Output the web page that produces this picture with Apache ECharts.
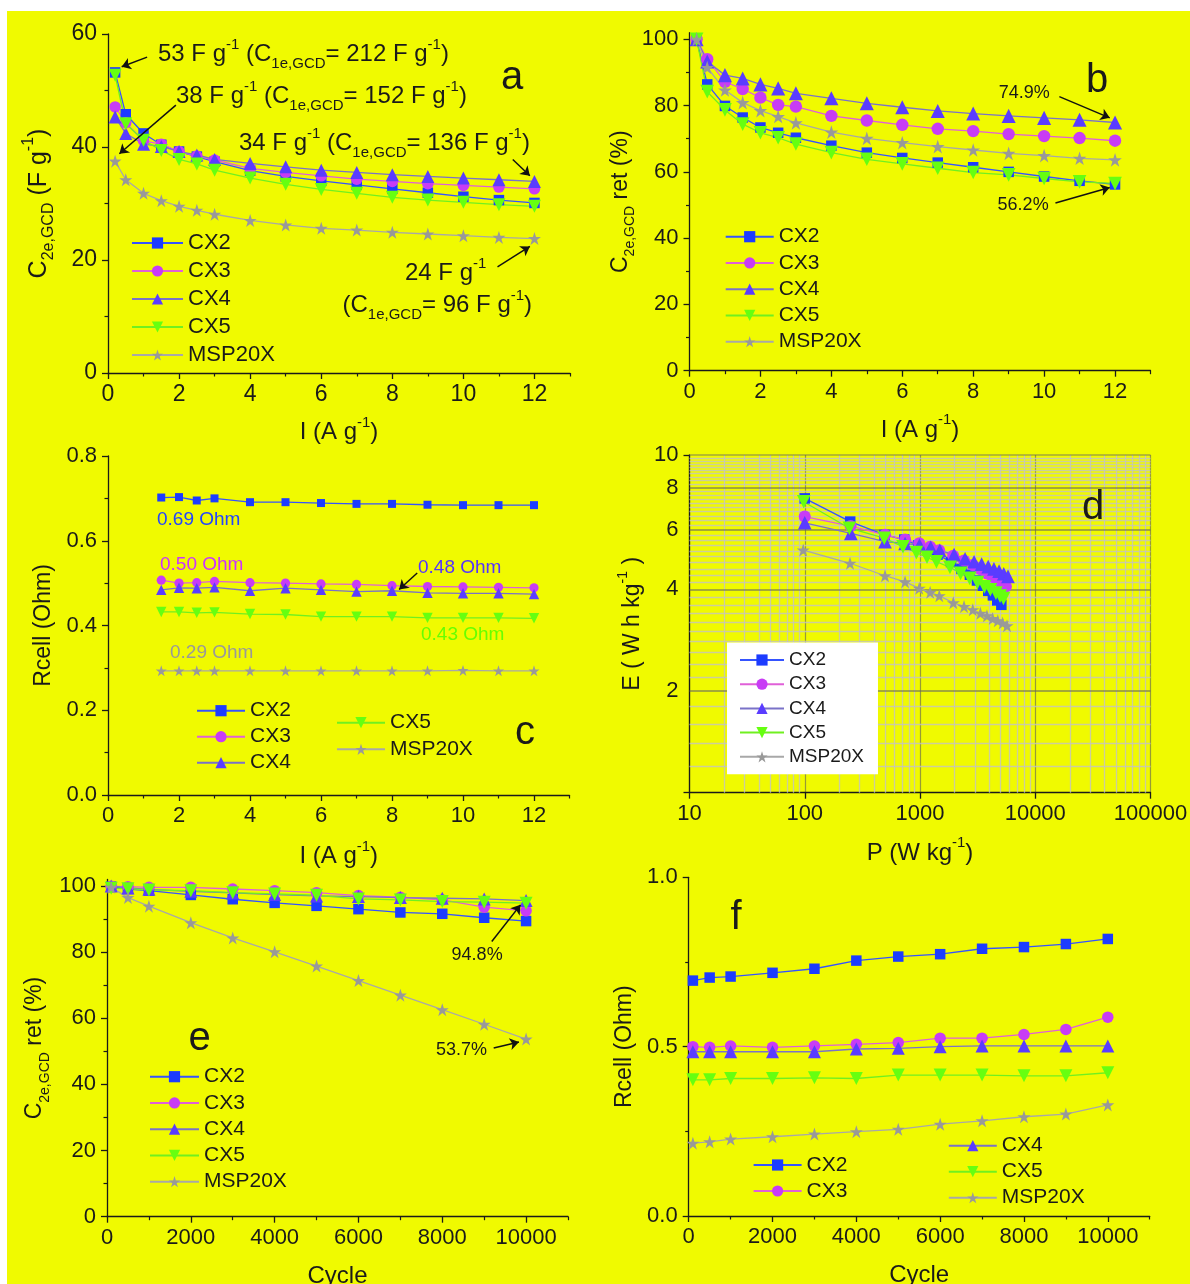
<!DOCTYPE html>
<html><head><meta charset="utf-8">
<script src="https://cdn.jsdelivr.net/npm/echarts@6/dist/echarts.min.js"></script>
<style>
html,body{margin:0;padding:0;background:#fff;}
#bg{position:absolute;left:7px;top:11px;width:1183px;height:1273px;background:#f0fa00;}
#chart{position:absolute;left:0;top:0;width:1190px;height:1284px;}
</style></head><body><div id="bg"></div><div id="chart"></div>
<script>
// ---------------- DATA ----------------
const seriesNames = ['CX2','CX3','CX4','CX5','MSP20X'];
// (a) & (b): current density, A/g
const currentAB = [0.2,0.5,1,1.5,2,2.5,3,4,5,6,7,8,9,10,11,12];
const capCX2 = [53.2,45.8,42.4,40.4,39.2,38.3,37.4,35.8,34.8,34.0,33.3,32.6,31.9,31.2,30.6,30.1];
const capCX3 = [47.1,44.3,41.1,40.5,39.2,38.4,37.7,36.2,35.5,34.9,34.3,33.9,33.5,33.2,32.9,32.6];
const capCX4 = [45.3,42.4,40.5,40.1,39.2,38.6,37.8,37.1,36.5,35.9,35.5,35.1,34.8,34.5,34.2,33.9];
const capCX5 = [52.7,44.1,41.2,39.4,37.8,37.0,35.9,34.5,33.4,32.5,31.8,31.1,30.6,30.2,29.8,29.5];
const capMSP = [37.5,34.2,31.8,30.5,29.5,28.8,28.1,27.0,26.2,25.6,25.3,24.9,24.6,24.3,24.0,23.8];
const retCX2 = [100,86.4,79.9,76.4,73.4,71.8,70.3,67.9,65.8,64.2,62.8,61.4,60.0,58.6,57.3,56.2];
const retCX3 = [100,94.0,87.2,85.0,82.4,80.2,79.7,76.9,75.5,74.2,73.0,72.3,71.4,70.8,70.2,69.4];
const retCX4 = [100,93.3,89.2,88.2,86.4,85.2,83.7,82.2,80.7,79.5,78.4,77.6,76.9,76.3,75.7,74.9];
const retCX5 = [100,84.2,78.7,74.4,71.8,70.3,68.4,65.8,63.8,62.4,61.1,59.8,59.1,58.0,57.0,56.5];
const retMSP = [100,91.5,84.7,80.9,78.5,76.7,74.8,72.0,70.1,68.8,67.6,66.6,65.6,64.9,64.1,63.6];
// (c)
const currentC = [1.5,2,2.5,3,4,5,6,7,8,9,10,11,12];
const rCX2 = [0.702,0.703,0.695,0.700,0.691,0.691,0.689,0.687,0.687,0.685,0.684,0.684,0.684];
const rCX3 = [0.507,0.500,0.501,0.504,0.501,0.500,0.498,0.497,0.494,0.492,0.491,0.490,0.489];
const rCX4 = [0.484,0.489,0.488,0.490,0.482,0.488,0.484,0.480,0.482,0.477,0.476,0.476,0.474];
const rCX5 = [0.432,0.432,0.430,0.431,0.427,0.426,0.421,0.421,0.421,0.418,0.418,0.418,0.417];
const rMSP = [0.293,0.293,0.293,0.293,0.293,0.293,0.293,0.293,0.293,0.293,0.294,0.293,0.293];
// (d) Ragone: power W/kg, energy Wh/kg
const pCX2 = [100,248,492,730,965,1195,1420,1860,2290,2710,3120,3520,3910,4290,4680,5080];
const eCX2 = [7.44,6.35,5.80,5.62,5.40,5.22,5.07,4.82,4.60,4.42,4.25,4.10,3.96,3.84,3.71,3.60];
const pCX3 = [100,250,497,742,985,1225,1465,1940,2410,2880,3340,3800,4250,4700,5140,5560];
const eCX3 = [6.57,6.16,5.80,5.62,5.48,5.35,5.22,5.03,4.87,4.72,4.59,4.46,4.35,4.25,4.16,4.08];
const pCX4 = [100,251,497,742,990,1238,1485,1975,2460,2945,3425,3905,4380,4855,5330,5800];
const eCX4 = [6.30,5.86,5.54,5.47,5.41,5.33,5.22,5.07,4.93,4.83,4.75,4.67,4.60,4.53,4.45,4.37];
const pCX5 = [98,244,490,712,930,1150,1390,1820,2250,2700,3150,3620,4080,4560,4950,5300];
const eCX5 = [7.27,6.07,5.67,5.35,5.14,4.98,4.83,4.65,4.46,4.31,4.19,4.07,3.99,3.90,3.82,3.76];
const pMSP = [97,247,497,742,985,1225,1470,1945,2410,2870,3340,3810,4270,4730,5210,5690];
const eMSP = [5.23,4.78,4.39,4.21,4.03,3.92,3.83,3.65,3.56,3.48,3.40,3.34,3.28,3.23,3.18,3.12];
// (e) & (f): cycling
const cycles = [100,500,1000,2000,3000,4000,5000,6000,7000,8000,9000,10000];
const cycRetCX2 = [99.8,99.1,98.6,97.3,96.0,94.9,94.0,93.0,92.0,91.6,90.4,89.4];
const cycRetCX3 = [99.9,99.8,99.6,99.6,99.1,98.6,98.0,97.1,96.6,95.8,93.6,92.5];
const cycRetCX4 = [100,99.4,99.0,98.4,97.9,97.4,97.0,96.8,96.5,96.3,96.1,95.6];
const cycRetCX5 = [99.3,99.2,98.8,98.6,98.0,97.6,97.2,96.1,95.8,95.3,95.1,94.8];
const cycRetMSP = [99.6,96.5,93.9,88.9,84.3,80.1,75.8,71.4,67.0,62.6,58.2,53.7];
const fCX2 = [0.695,0.704,0.707,0.718,0.730,0.754,0.766,0.773,0.789,0.794,0.803,0.818];
const fCX3 = [0.500,0.498,0.502,0.498,0.502,0.507,0.512,0.525,0.525,0.536,0.551,0.587];
const fCX4 = [0.485,0.485,0.485,0.485,0.485,0.493,0.495,0.500,0.502,0.502,0.502,0.502];
const fCX5 = [0.402,0.402,0.406,0.406,0.408,0.406,0.416,0.416,0.416,0.414,0.414,0.423];
const fMSP = [0.215,0.219,0.227,0.234,0.242,0.249,0.256,0.271,0.281,0.293,0.301,0.328];
// tick values
const ticksI = [0,2,4,6,8,10,12], minorI = [1,3,5,7,9,11,13];
const ticksCap = [0,20,40,60], minorCap = [10,30,50];
const ticksRet = [0,20,40,60,80,100], minorRet = [10,30,50,70,90];
const ticksR = [0,0.2,0.4,0.6,0.8], minorR = [0.1,0.3,0.5,0.7];
const ticksCyc = [0,2000,4000,6000,8000,10000], minorCyc = [1000,3000,5000,7000,9000,11000];
const ticksRf = [0,0.5,1.0], minorRf = [0.25,0.75];
const ticksEmajor = [2,4,6,8];
const ticksEminor = [1.2,1.4,1.6,1.8,2.2,2.4,2.6,2.8,3.0,3.2,3.4,3.6,3.8,4.2,4.4,4.6,4.8,5.0,5.2,5.4,5.6,5.8,6.2,6.4,6.6,6.8,7.0,7.2,7.4,7.6,7.8,8.2,8.4,8.6,8.8,9.0,9.2,9.4,9.6,9.8];
const ticksPminor = [20,30,40,50,60,70,80,90,200,300,400,500,600,700,800,900,2000,3000,4000,5000,6000,7000,8000,9000,20000,30000,40000,50000,60000,70000,80000,90000];

// ---------------- STYLE ----------------
const FF = '"Liberation Sans", Arial, sans-serif';
const INK = '#1a1a1a';
const STAR = 'path://M50,0 L61.8,35.3 L98.9,35.3 L68.9,57.1 L80.3,92.4 L50,70.6 L19.7,92.4 L31.1,57.1 L1.1,35.3 L38.2,35.3 Z';
const STY = {
  CX2: {symbol:'rect', color:'#1c3cff', line:'#3553ff', rot:0, size:10},
  CX3: {symbol:'circle', color:'#c83cf5', line:'#e060d8', rot:0, size:11.5},
  CX4: {symbol:'triangle', color:'#5a3cff', line:'#7a72c8', rot:0, size:13},
  CX5: {symbol:'triangle', color:'#66ff10', line:'#70f020', rot:180, size:13},
  MSP20X: {symbol:STAR, color:'#999999', line:'#a8a8a8', rot:0, size:13}
};

function richName(size){
  const sub = Math.round(size*0.62);
  return {fontFamily:FF, color:INK, fontSize:size, lineHeight:size+11,
    rich:{
      m:{fontSize:size, lineHeight:size+11, fontFamily:FF, color:INK},
      s:{fontSize:sub, verticalAlign:'bottom', fontFamily:FF, color:INK},
      p:{fontSize:sub, verticalAlign:'top', fontFamily:FF, color:INK}
    }};
}

const xAxes = [], yAxes = [];
function linAxes(list, dim, g, min, max, majors, minors, fmt, name, nameGap, nameSize, labelSize){
  const pos = dim==='x' ? 'bottom' : 'left';
  list.push({
    type:'value', gridIndex:g, min:min, max:max, position:pos,
    axisLine:{show:true, onZero:false, lineStyle:{color:INK, width:1.3}},
    axisTick:{show:true, customValues:majors, length:6, lineStyle:{color:INK, width:1.3}},
    axisLabel:{show:true, customValues:majors, formatter:fmt, fontSize:labelSize, color:INK, fontFamily:FF, margin: dim==='x'?10:11},
    splitLine:{show:false}, minorTick:{show:false},
    name:name, nameLocation:'middle', nameGap:nameGap, nameRotate: dim==='y'?90:0,
    nameTextStyle: richName(nameSize)
  });
  list.push({
    type:'value', gridIndex:g, min:min, max:max, position:pos,
    axisLine:{show:false, onZero:false},
    axisTick:{show:true, customValues:minors, length:3.5, lineStyle:{color:INK, width:1.2}},
    axisLabel:{show:false}, splitLine:{show:false}
  });
}
const f0 = v => String(v);
const f1 = v => Number(v).toFixed(1);
const NAME_I = '{m|I (A g}{p|-1}{m|)}';
const NAME_RET = '{m|C}{s|2e,GCD}{m| ret (%)}';
// a
linAxes(xAxes,'x',0,0,13,ticksI,minorI,f0,NAME_I,42,24,23);
linAxes(yAxes,'y',0,0,60,ticksCap,minorCap,f0,'{m|C}{s|2e,GCD}{m| (F g}{p|-1}{m|)}',51,25,23);
// b
linAxes(xAxes,'x',1,0,13,ticksI,minorI,f0,NAME_I,42,24,22);
linAxes(yAxes,'y',1,0,102,ticksRet,minorRet,f0,NAME_RET,52,23,22);
// c
linAxes(xAxes,'x',2,0,13,ticksI,minorI,f0,NAME_I,44,24,22);
linAxes(yAxes,'y',2,0,0.8,ticksR,minorR,f1,'{m|Rcell (Ohm)}',47,23,22);
// d (log-log)
xAxes.push({type:'log', logBase:10, gridIndex:3, min:10, max:100000, position:'bottom',
  axisLine:{show:true, onZero:false, lineStyle:{color:INK, width:1.3}},
  axisTick:{show:true, length:6, lineStyle:{color:INK, width:1.3}},
  axisLabel:{fontSize:22, color:INK, fontFamily:FF, margin:10, formatter: v => String(Math.round(v))},
  splitLine:{show:true, lineStyle:{color:'rgba(90,90,90,0.6)', width:1.2}},
  name:'{m|P (W kg}{p|-1}{m|)}', nameLocation:'middle', nameGap:43, nameTextStyle:richName(24)});
xAxes.push({type:'log', logBase:10, gridIndex:3, min:10, max:100000, show:false});
yAxes.push({type:'log', logBase:10, gridIndex:3, min:1, max:10, position:'left',
  axisLine:{show:true, onZero:false, lineStyle:{color:INK, width:1.3}},
  axisTick:{show:true, length:6, lineStyle:{color:INK, width:1.3}},
  axisLabel:{fontSize:22, color:INK, fontFamily:FF, margin:11, formatter: v => (Math.abs(v-10)<1e-6 ? '10' : '')},
  splitLine:{show:false},
  name:'{m|E ( W h kg}{p|-1}{m| )}', nameLocation:'middle', nameGap:39, nameRotate:90, nameTextStyle:richName(23)});
yAxes.push({type:'log', logBase:10, gridIndex:3, min:1, max:10, show:false});
// e
linAxes(xAxes,'x',4,0,11000,ticksCyc,minorCyc,f0,'{m|Cycle}',42,24,22);
linAxes(yAxes,'y',4,0,102,ticksRet,minorRet,f0,NAME_RET,55,23,22);
// f
linAxes(xAxes,'x',5,0,11000,ticksCyc,minorCyc,f0,'{m|Cycle}',42,24,22);
linAxes(yAxes,'y',5,0,1.0,ticksRf,minorRf,f1,'{m|Rcell (Ohm)}',47,23,22);

const grids = [
  {left:108, top:34, width:462, height:339},
  {left:689.5, top:32.7, width:461, height:338},
  {left:108, top:456, width:461.5, height:339},
  {left:689.5, top:455, width:461, height:337.7},
  {left:107, top:879.4, width:461, height:337.3},
  {left:688.7, top:877.3, width:461, height:338.7}
].map(g => Object.assign({containLabel:false, outerBoundsMode:'none', show:false}, g));

function zip(xs, ys){ return xs.map((x,i)=>[x, ys[i]]); }
function mk(name, g, xs, ys, scale, extra){
  const s = STY[name];
  return Object.assign({
    type:'line', name:name, xAxisIndex:2*g, yAxisIndex:2*g,
    data: zip(xs, ys), symbol:s.symbol, symbolSize:s.size*scale, symbolRotate:s.rot,
    showSymbol:true, itemStyle:{color:s.color, borderWidth:0},
    lineStyle:{color:s.line, width:1.3}, emphasis:{disabled:true},
    animation:false, z:3, clip:false
  }, extra||{});
}
const ARROW = {silent:true, animation:false, symbol:['none','arrow'], symbolSize:9,
  lineStyle:{color:'#111', width:1.5, type:'solid'}, label:{show:false}, emphasis:{disabled:true}};
function arrows(list){ return Object.assign({}, ARROW, {data: list.map(a => [{coord:a[0]},{coord:a[1]}])}); }

// annotation arrow endpoints (data units of each panel)
const arrowsA = [[[1.10,55.9],[0.385,54.2]], [[1.91,47.4],[0.32,38.8]], [[11.39,37.8],[11.87,34.9]], [[10.96,18.8],[11.87,22.4]]];
const arrowsB = [[[10.43,82.7],[11.85,76.3]], [[10.32,50.6],[11.85,55.3]]];
const arrowsC = [[[8.71,0.524],[8.2,0.485]]];
const arrowsE = [[[9181,83.2],[9866,94.3]], [[9227,51.0],[9830,52.8]]];

const gridLinesD = [];
ticksEminor.forEach(v => gridLinesD.push({yAxis:v, lineStyle:{color:'rgba(195,195,195,0.8)', width:1.3, type:'solid'}, label:{show:false}}));
ticksPminor.forEach(v => gridLinesD.push({xAxis:v, lineStyle:{color:'rgba(195,195,195,0.8)', width:1.3, type:'solid'}, label:{show:false}}));
ticksEmajor.forEach(v => gridLinesD.push({yAxis:v, lineStyle:{color:'rgba(100,100,100,0.55)', width:2, type:'solid'},
  label:{show:true, position:'start', formatter:String(v), fontSize:22, color:INK, fontFamily:FF, distance:11}}));
gridLinesD.push({yAxis:10, lineStyle:{color:'rgba(100,100,100,0.55)', width:1.5, type:'solid'}, label:{show:false}});

const series = [
  // a
  mk('CX2',0,currentAB,capCX2,1.05), mk('CX3',0,currentAB,capCX3,1), mk('CX4',0,currentAB,capCX4,1),
  mk('CX5',0,currentAB,capCX5,1), mk('MSP20X',0,currentAB,capMSP,1,{markLine:arrows(arrowsA)}),
  // b
  mk('CX2',1,currentAB,retCX2,1.05), mk('CX3',1,currentAB,retCX3,1.08), mk('CX4',1,currentAB,retCX4,1.08,{markLine:arrows(arrowsB)}),
  mk('CX5',1,currentAB,retCX5,1.05), mk('MSP20X',1,currentAB,retMSP,1.05),
  // c
  mk('CX2',2,currentC,rCX2,0.8), mk('CX3',2,currentC,rCX3,0.8), mk('CX4',2,currentC,rCX4,0.8,{markLine:arrows(arrowsC)}),
  mk('CX5',2,currentC,rCX5,0.8), mk('MSP20X',2,currentC,rMSP,0.85),
  // d
  {type:'line', name:'', xAxisIndex:6, yAxisIndex:6, data:zip(pMSP,eMSP), symbol:'none', silent:true,
    lineStyle:{opacity:0}, z:1, animation:false,
    markLine:{silent:true, animation:false, z:1, symbol:['none','none'], label:{show:false}, emphasis:{disabled:true}, data:gridLinesD}},
  mk('CX2',3,pCX2,eCX2,1.05), mk('CX3',3,pCX3,eCX3,1.05), mk('CX4',3,pCX4,eCX4,1.05),
  mk('CX5',3,pCX5,eCX5,1.05), mk('MSP20X',3,pMSP,eMSP,1),
  // e
  mk('CX2',4,cycles,cycRetCX2,1.05), mk('CX3',4,cycles,cycRetCX3,1), mk('CX4',4,cycles,cycRetCX4,1),
  mk('CX5',4,cycles,cycRetCX5,1), mk('MSP20X',4,cycles,cycRetMSP,1,{markLine:arrows(arrowsE)}),
  // f
  mk('CX2',5,cycles,fCX2,1.05), mk('CX3',5,cycles,fCX3,1), mk('CX4',5,cycles,fCX4,1),
  mk('CX5',5,cycles,fCX5,1), mk('MSP20X',5,cycles,fMSP,1)
];

function lg(names, left, top, itemWidth, fontSize, gap, extra){
  return Object.assign({data:names, orient:'vertical', left:left, top:top, itemWidth:itemWidth, itemHeight:14,
    itemGap:gap, padding:0, selectedMode:false,
    textStyle:{fontSize:fontSize, lineHeight:fontSize, color:INK, fontFamily:FF}}, extra||{});
}
const legends = [
  lg(seriesNames, 131, 232, 51, 22, 6),
  lg(seriesNames, 724.7, 226.2, 48, 21, 5.25),
  lg(['CX2','CX3','CX4'], 196, 700.2, 48, 21, 5),
  lg(['CX5','MSP20X'], 336, 712.2, 48, 21, 5.6),
  lg(seriesNames, 727, 642.5, 44, 19, 5.2, {padding:[8,14,8,12], backgroundColor:'#ffffff'}),
  lg(seriesNames, 149, 1066.2, 49, 21, 5.25),
  lg(['CX2','CX3'], 752.6, 1154.5, 48, 21, 5),
  lg(['CX4','CX5','MSP20X'], 947.8, 1135.2, 48, 21, 5)
];

// ---------------- TEXT ANNOTATIONS ----------------
function richNote(text, x, y, size){
  const sub = Math.round(size*0.64);
  return {type:'text', x:x, y:y, silent:true, z:10, style:{text:text, fontSize:size, fontFamily:FF, fill:INK,
    align:'left', verticalAlign:'middle',
    rich:{m:{fontSize:size, lineHeight:size+10, fontFamily:FF, fill:INK},
          s:{fontSize:sub, verticalAlign:'bottom', fontFamily:FF, fill:INK},
          p:{fontSize:sub, verticalAlign:'top', fontFamily:FF, fill:INK}}}};
}
function note(text, x, y, size, color){
  return {type:'text', x:x, y:y, silent:true, z:10, style:{text:text, fontSize:size, fontFamily:FF, fill:color, align:'left', verticalAlign:'middle'}};
}
function letter(t, x, y){
  return {type:'text', x:x, y:y, silent:true, z:10, style:{text:t, fontSize:40, fontFamily:FF, fill:INK, align:'center', verticalAlign:'middle'}};
}
const graphics = [
  richNote('{m|53 F g}{p|-1}{m| (C}{s|1e,GCD}{m|= 212 F g}{p|-1}{m|)}', 158, 54.7, 24),
  richNote('{m|38 F g}{p|-1}{m| (C}{s|1e,GCD}{m|= 152 F g}{p|-1}{m|)}', 176, 96.5, 24),
  richNote('{m|34 F g}{p|-1}{m| (C}{s|1e,GCD}{m|= 136 F g}{p|-1}{m|)}', 239, 143.5, 24),
  richNote('{m|24 F g}{p|-1}', 405, 273.5, 24),
  richNote('{m|(C}{s|1e,GCD}{m|= 96 F g}{p|-1}{m|)}', 342.5, 305, 24),
  note('74.9%', 998.7, 92.7, 18, INK),
  note('56.2%', 997.6, 205, 18, INK),
  note('0.69 Ohm', 157, 520, 19, '#2244ff'),
  note('0.50 Ohm', 160, 565, 19, '#cc33ff'),
  note('0.48 Ohm', 418, 567.3, 19, '#5533ff'),
  note('0.43 Ohm', 421, 635, 19, '#66ff00'),
  note('0.29 Ohm', 170, 653, 19, '#999999'),
  note('94.8%', 451.6, 955, 18, INK),
  note('53.7%', 436, 1050, 18, INK),
  letter('a', 512, 77.8), letter('b', 1097, 81), letter('c', 525, 732.8),
  letter('d', 1093, 508.4), letter('e', 199.5, 1039.4), letter('f', 736, 917.8)
];

const chart = echarts.init(document.getElementById('chart'), null, {renderer:'canvas'});
chart.setOption({
  backgroundColor:'transparent', animation:false,
  textStyle:{fontFamily:FF},
  grid:grids, xAxis:xAxes, yAxis:yAxes, legend:legends, series:series, graphic:graphics
});
</script></body></html>
